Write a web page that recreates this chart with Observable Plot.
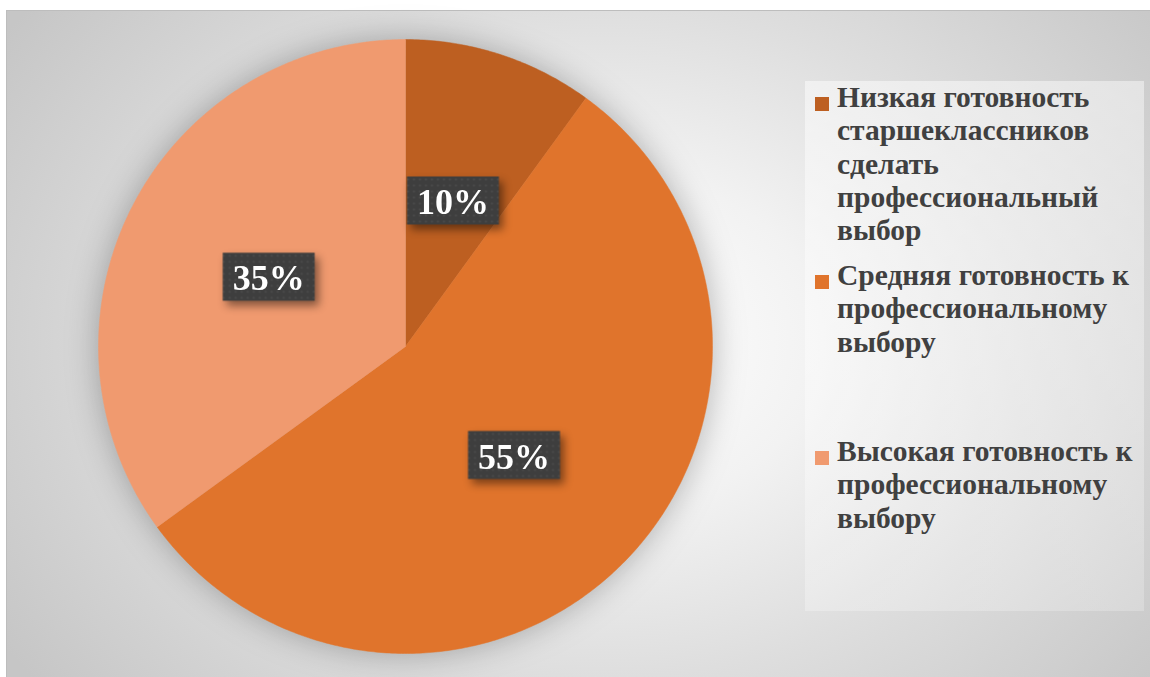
<!DOCTYPE html>
<html>
<head>
<meta charset="utf-8">
<script src="https://cdn.jsdelivr.net/npm/d3@7"></script>
<script src="https://cdn.jsdelivr.net/npm/@observablehq/plot@0.6"></script>
<style>
  html, body { margin: 0; padding: 0; background: #ffffff; }
  #page { position: relative; width: 1150px; height: 677px; overflow: hidden; background: #fff; }
  #frame {
    position: absolute; left: 6px; top: 10px; width: 1144px; height: 667px;
    box-sizing: border-box; border-top: 1px solid #bdbdbd; border-left: 1px solid #bdbdbd;
    background: radial-gradient(ellipse 720px 560px at 600px 330px, #ffffff 0%, #f2f2f2 30%, #dedede 60%, #c6c6c6 100%);
  }
  #pie { position: absolute; left: 98px; top: 39px; }
  #pie svg { overflow: visible; }
  #pie g[aria-label="line"] { filter: drop-shadow(0 0 16px rgba(0,0,0,0.28)); }
  #pie g[aria-label="dot"] { filter: drop-shadow(4px 5px 4px rgba(0,0,0,0.45)); }
  #legend {
    position: absolute; left: 805px; top: 81px; width: 339px; height: 530px;
    background: linear-gradient(160deg, rgba(255,255,255,0.5) 0%, rgba(255,255,255,0.22) 100%);
  }
  .entry { position: absolute; left: 0; }
  .entry .sw { position: absolute; left: 10px; width: 14px; height: 14px; }
  .entry .tx { position: absolute; left: 32px; white-space: nowrap; }
</style>
</head>
<body>
<div id="page">
  <div id="frame"></div>
  <div id="pie"></div>
  <div id="legend"></div>
</div>
<script>
// ---- data ----
const categories = [
  "Низкая готовность старшеклассников сделать профессиональный выбор",
  "Средняя готовность к профессиональному выбору",
  "Высокая готовность к профессиональному выбору"
];
const values = [10, 55, 35];
const colors = ["#BD5F21", "#E0742C", "#F09A6F"];
const legendLines = [
  ["Низкая готовность", "старшеклассников", "сделать", "профессиональный", "выбор"],
  ["Средняя готовность к", "профессиональному", "выбору"],
  ["Высокая готовность к", "профессиональному", "выбору"]
];

const SERIF = "'Liberation Serif', 'Times New Roman', serif";

// ---- pie geometry from data ----
const slices = d3.pie().sort(null).value(d => d.value)(categories.map((c, i) => ({key: c, value: values[i]})));
const polyPoints = [];
for (const s of slices) {
  const key = s.data.key;
  polyPoints.push({key, x: 0, y: 0});
  const n = Math.max(2, Math.ceil((s.endAngle - s.startAngle) / 0.01));
  for (let k = 0; k <= n; k++) {
    const a = s.startAngle + (s.endAngle - s.startAngle) * k / n;
    polyPoints.push({key, x: Math.sin(a), y: Math.cos(a)});
  }
  polyPoints.push({key, x: 0, y: 0});
}
const labelR = 0.5;
const labels = slices.map(s => {
  const a = (s.startAngle + s.endAngle) / 2;
  return {key: s.data.key, value: s.data.value, x: labelR * Math.sin(a), y: labelR * Math.cos(a)};
});

const boxSymbol = { draw(ctx) { ctx.rect(-46, -24, 92, 48); } };

const chart = Plot.plot({
  width: 614, height: 614, margin: 0,
  x: {domain: [-1, 1], axis: null},
  y: {domain: [-1, 1], axis: null},
  color: {domain: categories, range: colors},
  style: {background: "transparent", overflow: "visible"},
  marks: [
    Plot.line(polyPoints, {x: "x", y: "y", z: "key", fill: "key", stroke: "key", strokeWidth: 0.5}),
    Plot.dot(labels, {x: "x", y: "y", symbol: boxSymbol, fill: "url(#dots)", stroke: "none"}),
    Plot.text(labels, {x: "x", y: "y", text: d => d.value + "%", fill: "white", fontSize: 36, fontWeight: "bold", fontFamily: SERIF, dy: 2})
  ]
});
d3.select(chart).selectAll("text").each(function() {
  this.style.setProperty("font-family", SERIF, "important");
  this.style.setProperty("font-weight", "bold", "important");
  this.style.setProperty("font-size", "36px", "important");
});
// pattern for label boxes
const defs = d3.select(chart).insert("defs", ":first-child");
const pat = defs.append("pattern").attr("id", "dots").attr("patternUnits", "userSpaceOnUse").attr("width", 6).attr("height", 6);
pat.append("rect").attr("width", 6).attr("height", 6).attr("fill", "#3e3e3e");
pat.append("rect").attr("x", 2).attr("y", 2).attr("width", 2).attr("height", 2).attr("fill", "#4b4b4b");
document.getElementById("pie").appendChild(chart);

// ---- legend ----
const legend = document.getElementById("legend");
const entryTops = [17, 195, 371];
legendLines.forEach((lines, i) => {
  const e = document.createElement("div");
  e.className = "entry";
  e.style.top = entryTops[i] + "px";
  const sw = document.createElement("div");
  sw.className = "sw"; sw.style.background = colors[i]; sw.style.top = "-1px";
  e.appendChild(sw);
  lines.forEach((line, j) => {
    const tx = document.createElement("div");
    tx.className = "tx";
    tx.textContent = line;
    tx.style.top = (-17 + j * 33.3) + "px";
    tx.style.setProperty("font-family", SERIF, "important");
    tx.style.setProperty("font-weight", "bold", "important");
    tx.style.setProperty("font-size", "29.5px", "important");
    tx.style.setProperty("line-height", "33px", "important");
    tx.style.setProperty("color", "#404040", "important");
    e.appendChild(tx);
  });
  legend.appendChild(e);
});
</script>
</body>
</html>
